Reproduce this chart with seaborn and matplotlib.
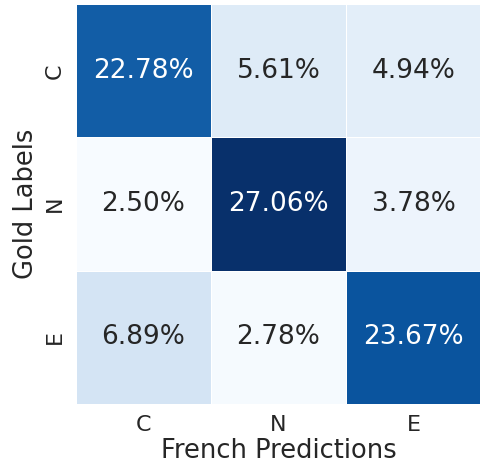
import numpy as np
import pandas as pd
import matplotlib
matplotlib.use("Agg")
import matplotlib.pyplot as plt
import seaborn as sns

labels = ["C", "N", "E"]
row_C = [22.78, 5.61, 4.94]
row_N = [2.50, 27.06, 3.78]
row_E = [6.89, 2.78, 23.67]

matrix = pd.DataFrame([row_C, row_N, row_E], index=labels, columns=labels)
annot = matrix.map(lambda v: f"{v:.2f}%")

sns.set_theme(style="white", font_scale=1.3)

fig = plt.figure(figsize=(4.81, 4.67), dpi=100)
ax = fig.add_axes([0.158, 0.135, 0.842, 0.856])
sns.heatmap(matrix, annot=annot, fmt="", cmap="Blues", cbar=False,
            linewidths=0.6, linecolor="white", ax=ax,
            annot_kws={"size": 19})
ax.set_xlabel("French Predictions", fontsize=18.5, labelpad=2)
ax.set_ylabel("Gold Labels", fontsize=18.5, labelpad=4)
ax.tick_params(axis="both", labelsize=16, length=0, pad=8)
fig.savefig("out.png", dpi=100)
